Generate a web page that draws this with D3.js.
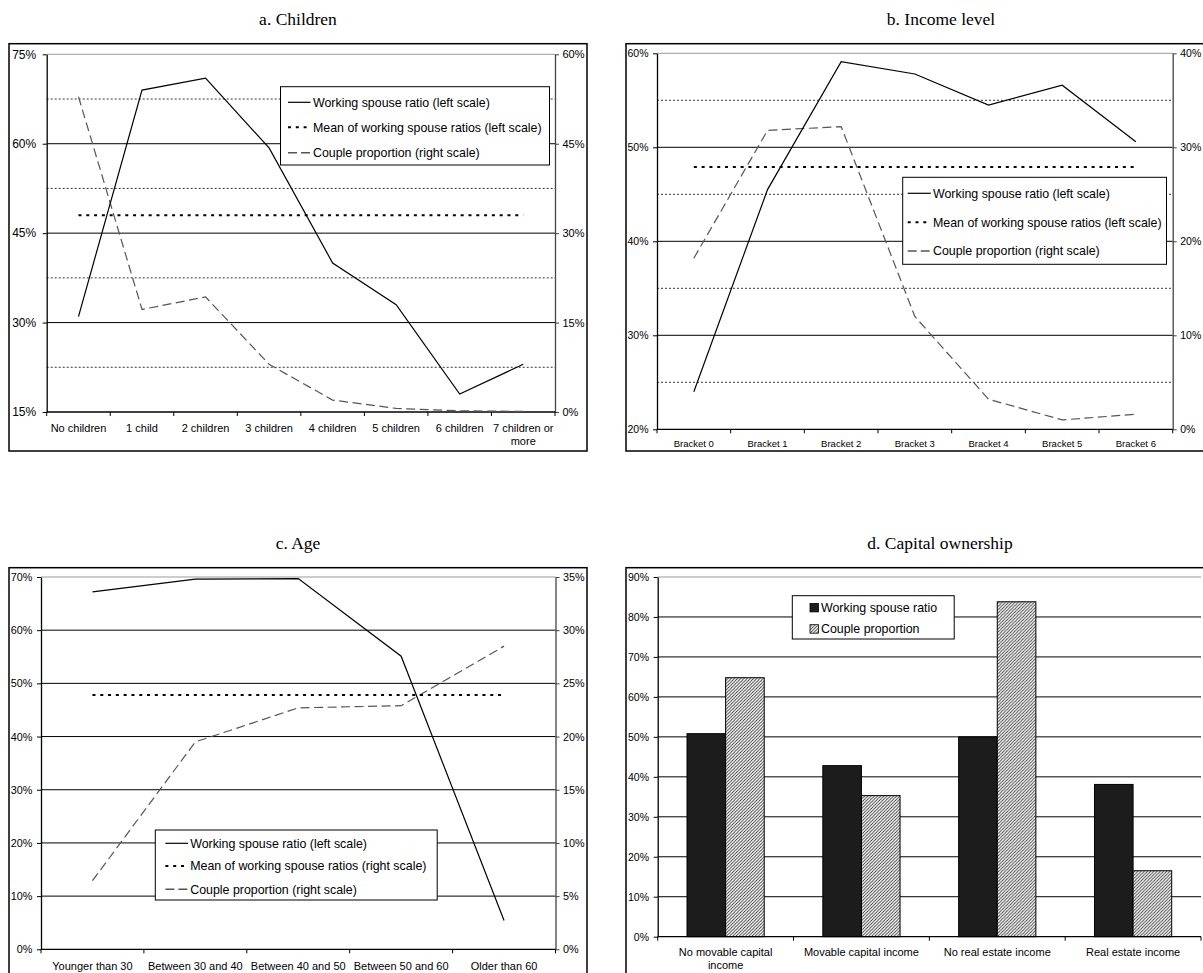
<!DOCTYPE html>
<html><head><meta charset="utf-8">
<script src="https://cdn.jsdelivr.net/npm/d3@7"></script>
<style>body{margin:0;background:#fff} svg{display:block}</style>
</head><body>
<svg id="chart" width="1203" height="973"></svg>
<script>
// ---------------- DATA ----------------
const childrenCats = ["No children","1 child","2 children","3 children","4 children","5 children","6 children","7 children or more"];
const childrenWorking = [31.0, 69.0, 71.0, 59.3, 40.0, 33.0, 18.0, 23.0];
const childrenCouple = [52.9, 17.2, 19.3, 8.0, 2.0, 0.6, 0.2, 0.1];
const childrenMean = 48.0;
const childrenLeftTicks = [15, 30, 45, 60, 75];
const childrenRightTicks = [0, 15, 30, 45, 60];
const childrenMinor = [22.5, 37.5, 52.5, 67.5];

const incomeCats = ["Bracket 0","Bracket 1","Bracket 2","Bracket 3","Bracket 4","Bracket 5","Bracket 6"];
const incomeWorking = [24.0, 45.5, 59.1, 57.8, 54.5, 56.6, 50.6];
const incomeCouple = [18.2, 31.8, 32.2, 12.0, 3.2, 1.0, 1.6];
const incomeMean = 47.9;
const incomeLeftTicks = [20, 30, 40, 50, 60];
const incomeRightTicks = [0, 10, 20, 30, 40];
const incomeMinor = [25, 35, 45, 55];

const ageCats = ["Younger than 30","Between 30 and 40","Between 40 and 50","Between 50 and 60","Older than 60"];
const ageWorking = [67.2, 69.6, 69.7, 55.1, 5.4];
const ageCouple = [6.45, 19.5, 22.7, 22.9, 28.5];
const ageMean = 47.8;
const ageLeftTicks = [0, 10, 20, 30, 40, 50, 60, 70];
const ageRightTicks = [0, 5, 10, 15, 20, 25, 30, 35];

const capitalCats = ["No movable capital income","Movable capital income","No real estate income","Real estate income"];
const capitalWorking = [50.8, 42.8, 50.0, 38.1];
const capitalCouple = [64.8, 35.3, 83.8, 16.5];
const capitalTicks = [0, 10, 20, 30, 40, 50, 60, 70, 80, 90];

const legendLeft = ["Working spouse ratio (left scale)", "Mean of working spouse ratios (left scale)", "Couple proportion (right scale)"];
const legendIncome = ["Working spouse ratio (left scale)", "Mean of working spouse ratios (left scale)", "Couple proportion  (right scale)"];
const legendAge = ["Working spouse ratio (left scale)", "Mean of working spouse ratios (right scale)", "Couple proportion (right scale)"];
const legendCapital = ["Working spouse ratio", "Couple proportion"];

// ---------------- DRAW ----------------
const SANS = "'Liberation Sans', Arial, Helvetica, sans-serif";
const SERIF = "'Liberation Serif', 'Times New Roman', serif";
const svg = d3.select("#chart");
svg.append("rect").attr("width",1203).attr("height",973).attr("fill","#fff");

const defs = svg.append("defs");
const pat = defs.append("pattern").attr("id","hatch").attr("patternUnits","userSpaceOnUse")
  .attr("width",3.2).attr("height",3.2);
pat.append("rect").attr("width",3.2).attr("height",3.2).attr("fill","#fff");
pat.append("path").attr("d","M-1,1 l2,-2 M0,3.2 l3.2,-3.2 M2.2,4.2 l2,-2")
  .attr("stroke","#333").attr("stroke-width",0.85);

function wrapText(textSel, width) {
  textSel.each(function() {
    const t = d3.select(this);
    const words = t.text().split(/\s+/);
    const x = t.attr("x"), y = t.attr("y");
    t.text(null);
    let line = [], lineNo = 0;
    let ts = t.append("tspan").attr("x", x).attr("y", y).attr("dy", "0.35em");
    for (const w of words) {
      line.push(w);
      ts.text(line.join(" "));
      if (ts.node().getComputedTextLength() > width && line.length > 1) {
        line.pop(); ts.text(line.join(" "));
        line = [w]; lineNo++;
        ts = t.append("tspan").attr("x", x).attr("y", y).attr("dy", (0.35 + lineNo*1.2) + "em").text(w);
      }
    }
  });
}

function styleAxis(g, size) {
  g.attr("font-family", SANS).attr("font-size", size);
  g.selectAll("text").attr("fill", "#000");
  g.selectAll("line").attr("stroke", "#000");
}

function linePanel(c) {
  const g = svg.append("g");
  // frame
  g.append("rect").attr("x", c.frame.l).attr("y", c.frame.t)
    .attr("width", c.frame.r - c.frame.l).attr("height", c.frame.b - c.frame.t)
    .attr("fill", "none").attr("stroke", "#000").attr("stroke-width", 1.5);
  svg.append("text").attr("x", c.titleX).attr("y", c.titleY).attr("text-anchor","middle")
    .attr("font-family", SERIF).attr("font-size", 17.5).attr("fill","#000").text(c.title);

  const x = d3.scaleBand().domain(c.cats).range([c.plot.l, c.plot.r]).padding(0);
  const bw = x.bandwidth();
  const cx = d => x(d) + bw / 2;
  const yL = d3.scaleLinear().domain(c.leftDomain).range([c.plot.b, c.plot.t]);
  const yR = d3.scaleLinear().domain(c.rightDomain).range([c.plot.b, c.plot.t]);

  // minor dotted grid
  g.selectAll(".minor").data(c.minor || []).join("line")
    .attr("x1", c.plot.l).attr("x2", c.plot.r).attr("y1", d => yL(d)).attr("y2", d => yL(d))
    .attr("stroke", "#000").attr("stroke-width", 0.8).attr("stroke-dasharray", "2,2");
  // major grid
  const top = c.leftDomain[1];
  g.selectAll(".major").data(c.leftTicks.filter(v => v !== c.leftDomain[0])).join("line")
    .attr("x1", c.plot.l).attr("x2", c.plot.r).attr("y1", d => yL(d)).attr("y2", d => yL(d))
    .attr("stroke", d => d === top ? "#999" : "#000").attr("stroke-width", 1);

  // left axis
  const la = g.append("g").attr("transform", `translate(${c.plot.l},0)`)
    .call(d3.axisLeft(yL).tickValues(c.leftTicks).tickFormat(d => d + "%").tickSize(4).tickSizeOuter(0).tickPadding(c.leftPad));
  styleAxis(la, c.leftFont);
  la.select(".domain").attr("stroke", "#000").attr("stroke-width", 1.3);
  // right axis
  const ra = g.append("g").attr("transform", `translate(${c.plot.r},0)`)
    .call(d3.axisRight(yR).tickValues(c.rightTicks).tickFormat(d => d + "%").tickSize(4).tickSizeOuter(0).tickPadding(3.5));
  styleAxis(ra, c.rightFont);
  ra.select(".domain").attr("stroke", "#444").attr("stroke-width", 1.3);
  ra.selectAll(".tick line").attr("stroke", "#444");

  // bottom axis
  g.append("line").attr("x1", c.plot.l).attr("x2", c.plot.r).attr("y1", c.plot.b).attr("y2", c.plot.b)
    .attr("stroke", "#000").attr("stroke-width", 1.3);
  const bounds = c.cats.map(d => x(d)).concat([c.plot.r]);
  g.selectAll(".xt").data(bounds).join("line")
    .attr("x1", d => d).attr("x2", d => d).attr("y1", c.plot.b).attr("y2", c.plot.b + 4)
    .attr("stroke", "#000").attr("stroke-width", 1);
  const lbl = g.selectAll(".xl").data(c.cats).join("text")
    .attr("x", d => cx(d)).attr("y", c.plot.b + c.catOffset).attr("text-anchor", "middle")
    .attr("font-family", SANS).attr("font-size", c.catFont).attr("fill", "#000").text(d => d);
  wrapText(lbl, c.wrapWidth);

  // series
  const lineL = d3.line().x((d, i) => cx(c.cats[i])).y(d => yL(d));
  const lineR = d3.line().x((d, i) => cx(c.cats[i])).y(d => yR(d));
  g.append("path").datum(c.couple).attr("d", lineR).attr("fill", "none")
    .attr("stroke", "#555").attr("stroke-width", 1.2).attr("stroke-dasharray", "9,4.5");
  g.append("line").attr("x1", cx(c.cats[0])).attr("x2", cx(c.cats[c.cats.length - 1]))
    .attr("y1", yL(c.mean)).attr("y2", yL(c.mean))
    .attr("stroke", "#000").attr("stroke-width", 2).attr("stroke-dasharray", "3,4.8");
  g.append("path").datum(c.working).attr("d", lineL).attr("fill", "none")
    .attr("stroke", "#000").attr("stroke-width", 1.2);

  // legend
  const L = c.legend;
  const lg = g.append("g");
  lg.append("rect").attr("x", L.l).attr("y", L.t).attr("width", L.r - L.l).attr("height", L.b - L.t)
    .attr("fill", "#fff").attr("stroke", "#000").attr("stroke-width", 1);
  const styles = [
    {stroke: "#000", w: 1.2, dash: null},
    {stroke: "#000", w: 2, dash: "3,4.8"},
    {stroke: "#555", w: 1.6, dash: "9,4"}
  ];
  c.legendLabels.forEach((txt, i) => {
    const yy = L.rows[i];
    lg.append("line").attr("x1", L.sx0).attr("x2", L.sx1).attr("y1", yy).attr("y2", yy)
      .attr("stroke", styles[i].stroke).attr("stroke-width", styles[i].w)
      .attr("stroke-dasharray", styles[i].dash);
    lg.append("text").attr("x", L.tx).attr("y", yy).attr("dy", "0.35em")
      .attr("font-family", SANS).attr("font-size", 12.4).attr("fill", "#000").text(txt);
  });
}

linePanel({
  title: "a. Children", titleX: 298, titleY: 24.5,
  frame: {l: 9, t: 43.7, r: 587, b: 451},
  plot: {l: 46.7, r: 555, t: 54.3, b: 412},
  cats: childrenCats, working: childrenWorking, couple: childrenCouple, mean: childrenMean,
  leftDomain: [15, 75], leftTicks: childrenLeftTicks, rightDomain: [0, 60], rightTicks: childrenRightTicks,
  minor: childrenMinor, leftFont: 12, rightFont: 11, catFont: 11, leftPad: 6.5,
  catOffset: 16, wrapWidth: 64,
  legendLabels: legendLeft,
  legend: {l: 280.5, r: 549.5, t: 86.7, b: 165, rows: [102.3, 127.3, 152.7], sx0: 288, sx1: 310.5, tx: 313}
});

linePanel({
  title: "b. Income level", titleX: 941, titleY: 24.5,
  frame: {l: 626, t: 43.7, r: 1260, b: 451},
  plot: {l: 657, r: 1172.7, t: 53.3, b: 429.3},
  cats: incomeCats, working: incomeWorking, couple: incomeCouple, mean: incomeMean,
  leftDomain: [20, 60], leftTicks: incomeLeftTicks, rightDomain: [0, 40], rightTicks: incomeRightTicks,
  minor: incomeMinor, leftFont: 10.5, rightFont: 10.5, catFont: 9.5, leftPad: 4.5,
  catOffset: 14.4, wrapWidth: 80,
  legendLabels: legendIncome,
  legend: {l: 902.7, r: 1166.5, t: 177.3, b: 264.3, rows: [193.3, 222.3, 251], sx0: 907.7, sx1: 930.8, tx: 933}
});

linePanel({
  title: "c. Age", titleX: 298, titleY: 548.5,
  frame: {l: 9, t: 567.7, r: 587, b: 990},
  plot: {l: 41, r: 555.5, t: 577, b: 949.3},
  cats: ageCats, working: ageWorking, couple: ageCouple, mean: ageMean,
  leftDomain: [0, 70], leftTicks: ageLeftTicks, rightDomain: [0, 35], rightTicks: ageRightTicks,
  minor: [], leftFont: 10.8, rightFont: 10.8, catFont: 11, leftPad: 4.7,
  catOffset: 16.7, wrapWidth: 110,
  legendLabels: legendAge,
  legend: {l: 155.3, r: 437.2, t: 830, b: 900, rows: [843.3, 866, 889.3], sx0: 165.4, sx1: 188, tx: 190.2}
});

// ---- Panel d: bars ----
(function() {
  const frame = {l: 626, t: 567.7, r: 1260, b: 990};
  const plot = {l: 657.7, r: 1201, t: 577, b: 936.7};
  const g = svg.append("g");
  g.append("rect").attr("x", frame.l).attr("y", frame.t).attr("width", frame.r - frame.l)
    .attr("height", frame.b - frame.t).attr("fill", "none").attr("stroke", "#000").attr("stroke-width", 1.5);
  svg.append("text").attr("x", 940).attr("y", 548.5).attr("text-anchor", "middle")
    .attr("font-family", SERIF).attr("font-size", 17.5).attr("fill", "#000").text("d. Capital ownership");

  const x0 = d3.scaleBand().domain(capitalCats).range([plot.l, plot.r]).padding(0);
  const series = ["working", "couple"];
  const x1 = d3.scaleBand().domain(series).range([0, x0.bandwidth()]).paddingInner(0).paddingOuter(0.759);
  const y = d3.scaleLinear().domain([0, 90]).range([plot.b, plot.t]);

  g.selectAll(".grid").data(capitalTicks.filter(v => v > 0)).join("line")
    .attr("x1", plot.l).attr("x2", plot.r).attr("y1", d => y(d)).attr("y2", d => y(d))
    .attr("stroke", d => d === 90 ? "#999" : "#000").attr("stroke-width", 1);

  const la = g.append("g").attr("transform", `translate(${plot.l},0)`)
    .call(d3.axisLeft(y).tickValues(capitalTicks).tickFormat(d => d + "%").tickSize(4).tickSizeOuter(0).tickPadding(4.7));
  styleAxis(la, 10.5);
  la.select(".domain").attr("stroke", "#000").attr("stroke-width", 1.3);

  const rows = capitalCats.map((c, i) => ({c, working: capitalWorking[i], couple: capitalCouple[i]}));
  const grp = g.selectAll(".grp").data(rows).join("g").attr("transform", d => `translate(${x0(d.c)},0)`);
  grp.append("rect").attr("x", x1("working")).attr("width", x1.bandwidth())
    .attr("y", d => y(d.working)).attr("height", d => y(0) - y(d.working))
    .attr("fill", "#1c1c1c").attr("stroke", "#000").attr("stroke-width", 1);
  grp.append("rect").attr("x", x1("couple")).attr("width", x1.bandwidth())
    .attr("y", d => y(d.couple)).attr("height", d => y(0) - y(d.couple))
    .attr("fill", "url(#hatch)").attr("stroke", "#000").attr("stroke-width", 1);

  g.append("line").attr("x1", plot.l).attr("x2", plot.r).attr("y1", plot.b).attr("y2", plot.b)
    .attr("stroke", "#000").attr("stroke-width", 1.3);
  const bounds = capitalCats.map(d => x0(d)).concat([plot.r]);
  g.selectAll(".xt").data(bounds).join("line")
    .attr("x1", d => d).attr("x2", d => d).attr("y1", plot.b).attr("y2", plot.b + 4)
    .attr("stroke", "#000");
  const lbl = g.selectAll(".xl").data(capitalCats).join("text")
    .attr("x", d => x0(d) + x0.bandwidth() / 2).attr("y", plot.b + 15.6).attr("text-anchor", "middle")
    .attr("font-family", SANS).attr("font-size", 11).attr("fill", "#000").text(d => d);
  wrapText(lbl, 123);

  // legend
  const L = {l: 792.3, r: 954.2, t: 595.7, b: 639, rows: [607.7, 629]};
  g.append("rect").attr("x", L.l).attr("y", L.t).attr("width", L.r - L.l).attr("height", L.b - L.t)
    .attr("fill", "#fff").attr("stroke", "#000").attr("stroke-width", 1);
  const fills = ["#1c1c1c", "url(#hatch)"];
  legendCapital.forEach((t, i) => {
    g.append("rect").attr("x", 810).attr("y", L.rows[i] - 4.3).attr("width", 8.5).attr("height", 8.5)
      .attr("fill", fills[i]).attr("stroke", "#000").attr("stroke-width", 0.8);
    g.append("text").attr("x", 821).attr("y", L.rows[i]).attr("dy", "0.35em")
      .attr("font-family", SANS).attr("font-size", 12.4).attr("fill", "#000").text(t);
  });
})();
</script>
</body></html>
